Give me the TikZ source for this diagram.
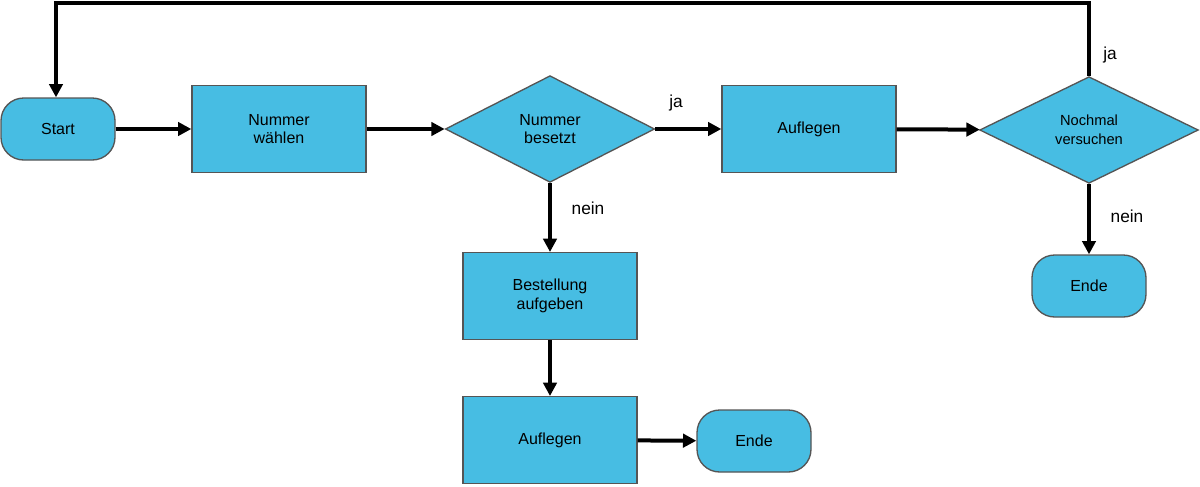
\documentclass[tikz,border=0pt]{standalone}
\usepackage{fontspec}
\setmainfont{Liberation Sans}
\usetikzlibrary{shapes.geometric,arrows.meta}
\definecolor{fillb}{HTML}{47BDE3}
\definecolor{bord}{HTML}{555555}
\begin{document}
\begin{tikzpicture}[x=0.75pt,y=-0.75pt,
  base/.style={draw=bord,line width=1pt,fill=fillb,font=\fontsize{12}{14}\selectfont,align=center,inner sep=0pt},
  term/.style={base,rounded corners=17pt,minimum width=85.5pt,minimum height=46.5pt},
  box/.style={base,minimum width=130.5pt,minimum height=65pt},
  dec/.style={base,diamond,aspect=1.95,minimum width=157pt,minimum height=80pt},
  arr/.style={line width=3pt,-{Triangle[length=10pt,width=10pt]}},
  lab/.style={font=\fontsize{13}{15}\selectfont}]
\useasboundingbox (0,0) rectangle (1200,486);
\node[term] (start) at (58,129) {Start};
\node[box] (wahl) at (279,129) {Nummer\\wählen};
\node[dec] (bes) at (550,129) {Nummer\\besetzt};
\node[box] (auf1) at (809,129) {Auflegen};
\node[dec,minimum width=164pt] (noch) at (1089,130) {\fontsize{11}{13}\selectfont Nochmal\\\fontsize{11}{13}\selectfont versuchen};
\node[term] (ende1) at (1089,286) {Ende};
\node[box] (best) at (550,296) {Bestellung\\aufgeben};
\node[box] (auf2) at (550,440) {Auflegen};
\node[term] (ende2) at (754,441) {Ende};
\coordinate (c1) at (1089,3);
\coordinate (c2) at (56,3);
\draw[arr] (start) -- (wahl);
\draw[arr] (wahl) -- (bes);
\draw[arr] (bes) -- (auf1);
\draw[arr] (auf1) -- (noch);
\draw[arr] (noch) -- (ende1);
\draw[arr] (bes) -- (best);
\draw[arr] (best) -- (auf2);
\draw[arr] (auf2) -- (ende2);
\draw[arr,rounded corners=0pt] (noch.north) -- (c1) -- (c2) -- (start.north -| c2);
\node[lab] (l1) at (676,103) {ja};
\node[lab] (l2) at (588,208) {nein};
\node[lab] (l3) at (1110,55) {ja};
\node[lab] (l4) at (1127,216) {nein};
\end{tikzpicture}
\end{document}
